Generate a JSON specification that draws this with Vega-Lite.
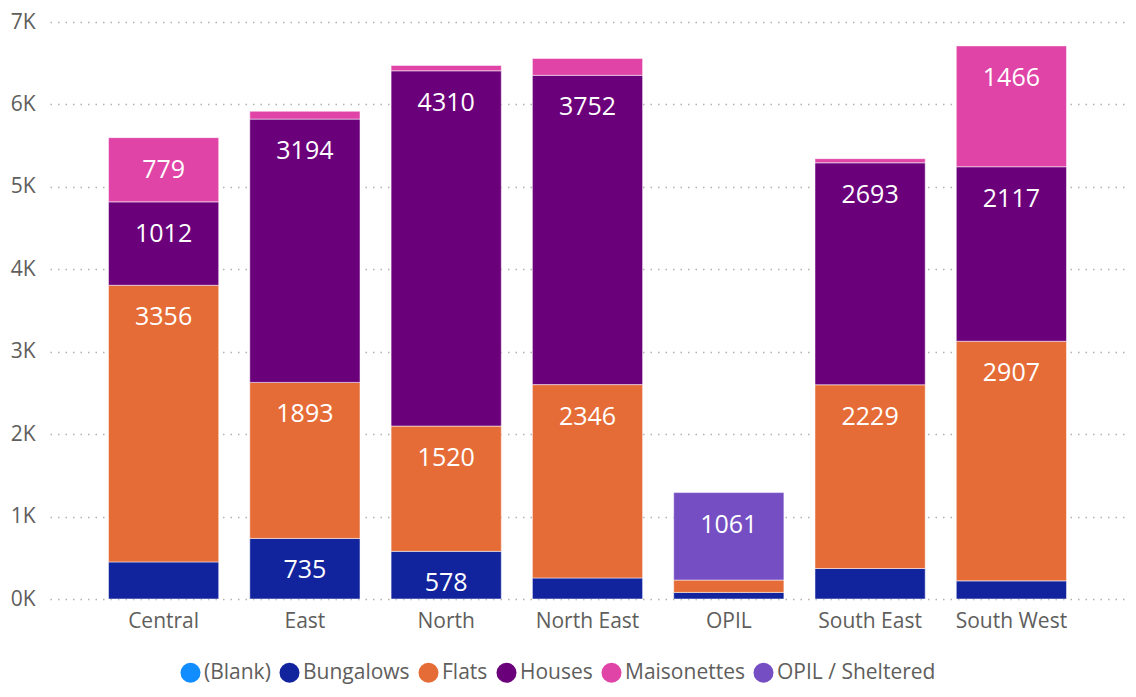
{
  "$schema": "https://vega.github.io/schema/vega-lite/v6.json",
  "width": 1075,
  "height": 577,
  "autosize": {"type": "none"},
  "padding": {"left": 50, "top": 22, "right": 11, "bottom": 98},
  "background": "#ffffff",
  "config": {
    "font": "Open Sans",
    "view": {"stroke": null}
  },
  "data": {
    "values": [
      {"region": "Central", "type": "Bungalows", "value": 450},
      {"region": "Central", "type": "Flats", "value": 3356},
      {"region": "Central", "type": "Houses", "value": 1012},
      {"region": "Central", "type": "Maisonettes", "value": 779},
      {"region": "East", "type": "Bungalows", "value": 735},
      {"region": "East", "type": "Flats", "value": 1893},
      {"region": "East", "type": "Houses", "value": 3194},
      {"region": "East", "type": "Maisonettes", "value": 95},
      {"region": "North", "type": "Bungalows", "value": 578},
      {"region": "North", "type": "Flats", "value": 1520},
      {"region": "North", "type": "Houses", "value": 4310},
      {"region": "North", "type": "Maisonettes", "value": 65},
      {"region": "North East", "type": "Bungalows", "value": 255},
      {"region": "North East", "type": "Flats", "value": 2346},
      {"region": "North East", "type": "Houses", "value": 3752},
      {"region": "North East", "type": "Maisonettes", "value": 205},
      {"region": "OPIL", "type": "Bungalows", "value": 80},
      {"region": "OPIL", "type": "Flats", "value": 150},
      {"region": "OPIL", "type": "OPIL / Sheltered", "value": 1061},
      {"region": "South East", "type": "Bungalows", "value": 370},
      {"region": "South East", "type": "Flats", "value": 2229},
      {"region": "South East", "type": "Houses", "value": 2693},
      {"region": "South East", "type": "Maisonettes", "value": 50},
      {"region": "South West", "type": "Bungalows", "value": 220},
      {"region": "South West", "type": "Flats", "value": 2907},
      {"region": "South West", "type": "Houses", "value": 2117},
      {"region": "South West", "type": "Maisonettes", "value": 1466}
    ]
  },
  "encoding": {
    "x": {
      "field": "region",
      "type": "nominal",
      "sort": null,
      "scale": {"paddingInner": 0.22, "paddingOuter": 0.414},
      "axis": {
        "title": null,
        "labelAngle": 0,
        "ticks": false,
        "domain": false,
        "labelFontSize": 21,
        "labelColor": "#605E5C",
        "labelPadding": 11
      }
    },
    "y": {
      "field": "value",
      "type": "quantitative",
      "aggregate": "sum",
      "stack": "zero",
      "scale": {"domain": [0, 7000], "nice": false},
      "axis": {
        "title": null,
        "values": [0, 1000, 2000, 3000, 4000, 5000, 6000, 7000],
        "labelExpr": "(datum.value / 1000) + 'K'",
        "ticks": false,
        "domain": false,
        "labelFontSize": 21,
        "labelColor": "#605E5C",
        "labelPadding": 15,
        "grid": true,
        "gridColor": "#B3B0AD",
        "gridDash": [1.5, 6],
        "gridWidth": 1.5
      }
    },
    "order": {"field": "type", "sort": "ascending"}
  },
  "layer": [
    {
      "mark": {"type": "bar", "stroke": "#ffffff", "strokeOpacity": 0.5, "strokeWidth": 1},
      "encoding": {
        "color": {
          "field": "type",
          "type": "nominal",
          "scale": {
            "domain": ["(Blank)", "Bungalows", "Flats", "Houses", "Maisonettes", "OPIL / Sheltered"],
            "range": ["#118DFF", "#12239E", "#E66C37", "#6B007B", "#E044A7", "#744EC2"]
          },
          "legend": {
            "title": null,
            "orient": "none",
            "direction": "horizontal",
            "legendX": 130,
            "legendY": 640,
            "symbolType": "circle",
            "symbolSize": 400,
            "symbolStrokeWidth": 0,
            "symbolOpacity": 1,
            "labelFontSize": 21,
            "labelColor": "#605E5C",
            "labelOffset": 3,
            "columnPadding": 8
          }
        }
      }
    },
    {
      "mark": {"type": "text", "color": "#ffffff", "fontSize": 25, "baseline": "middle", "dy": 32},
      "encoding": {
        "detail": {"field": "type", "type": "nominal"},
        "text": {"field": "value", "type": "quantitative", "aggregate": "sum", "format": "d"},
        "opacity": {"condition": {"test": "datum.sum_value < 500", "value": 0}, "value": 1}
      }
    }
  ]
}
